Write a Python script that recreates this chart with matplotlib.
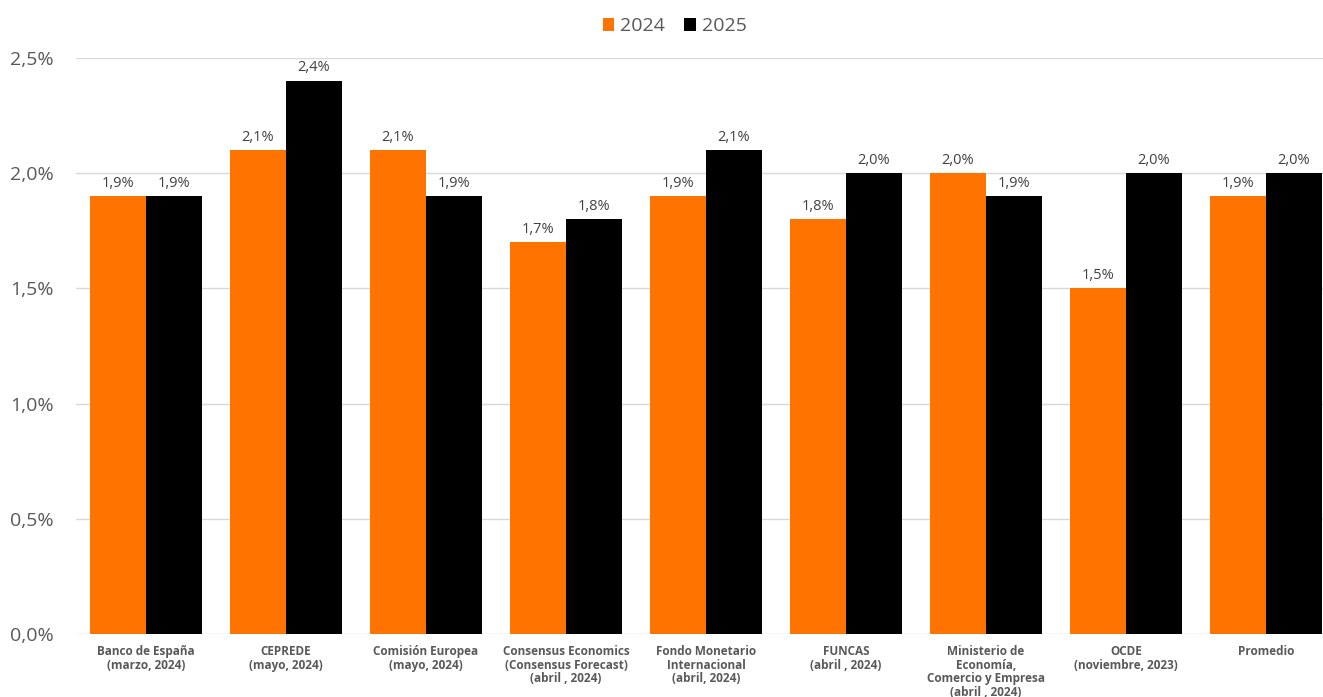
import numpy as np
import matplotlib.pyplot as plt

categories = [
    "Banco de España\n(marzo, 2024)",
    "CEPREDE\n(mayo, 2024)",
    "Comisión Europea\n(mayo, 2024)",
    "Consensus Economics\n(Consensus Forecast)\n(abril , 2024)",
    "Fondo Monetario\nInternacional\n(abril, 2024)",
    "FUNCAS\n(abril , 2024)",
    "Ministerio de\nEconomía,\nComercio y Empresa\n(abril , 2024)",
    "OCDE\n(noviembre, 2023)",
    "Promedio",
]
vals_2024 = [1.9, 2.1, 2.1, 1.7, 1.9, 1.8, 2.0, 1.5, 1.9]
vals_2025 = [1.9, 2.4, 1.9, 1.8, 2.1, 2.0, 1.9, 2.0, 2.0]
yticks = [0.0, 0.5, 1.0, 1.5, 2.0, 2.5]

orange = "#FF7300"
black = "#000000"
grey = "#595959"

plt.rcParams["font.family"] = ["Open Sans", "DejaVu Sans"]

fig = plt.figure(figsize=(13.23, 6.97), dpi=100)
ax = fig.add_axes([76 / 1323, 1 - 634 / 697, 1 - 76 / 1323, (634 - 58) / 697])

x = np.arange(len(categories))
w = 0.4
b1 = ax.bar(x - w / 2, vals_2024, w, color=orange, label="2024", zorder=3)
b2 = ax.bar(x + w / 2, vals_2025, w, color=black, label="2025", zorder=3)

def fmt(v):
    return f"{v:.1f}%".replace(".", ",")

for bars, vals in ((b1, vals_2024), (b2, vals_2025)):
    for r, v in zip(bars, vals):
        ax.annotate(fmt(v), (r.get_x() + r.get_width() / 2, v),
                    xytext=(0, 4), textcoords="offset points",
                    ha="center", va="bottom", fontsize=10.5, color="#404040")

ax.set_ylim(0, 2.5)
ax.set_xlim(-0.5, 8.5 - 13 / 140)
ax.set_yticks(yticks)
ax.set_yticklabels([fmt(t) for t in yticks], fontsize=14, color=grey)
ax.yaxis.grid(True, color="#D9D9D9", linewidth=1, zorder=0)
ax.tick_params(axis="y", length=0, pad=16)
ax.tick_params(axis="x", length=0, pad=8)
ax.set_xticks(x)
ax.set_xticklabels(categories, fontsize=8.5, color=grey, fontweight="bold",
                   linespacing=1.05, va="top")
for s in ax.spines.values():
    s.set_visible(False)

fig.legend(handles=[b1, b2], loc="upper center", bbox_to_anchor=(0.51, 1.0),
           ncol=2, frameon=False, fontsize=14, handlelength=0.6, handleheight=0.6,
           handletextpad=0.3, columnspacing=1.0, labelcolor=grey)

fig.savefig("out.png", dpi=100)
